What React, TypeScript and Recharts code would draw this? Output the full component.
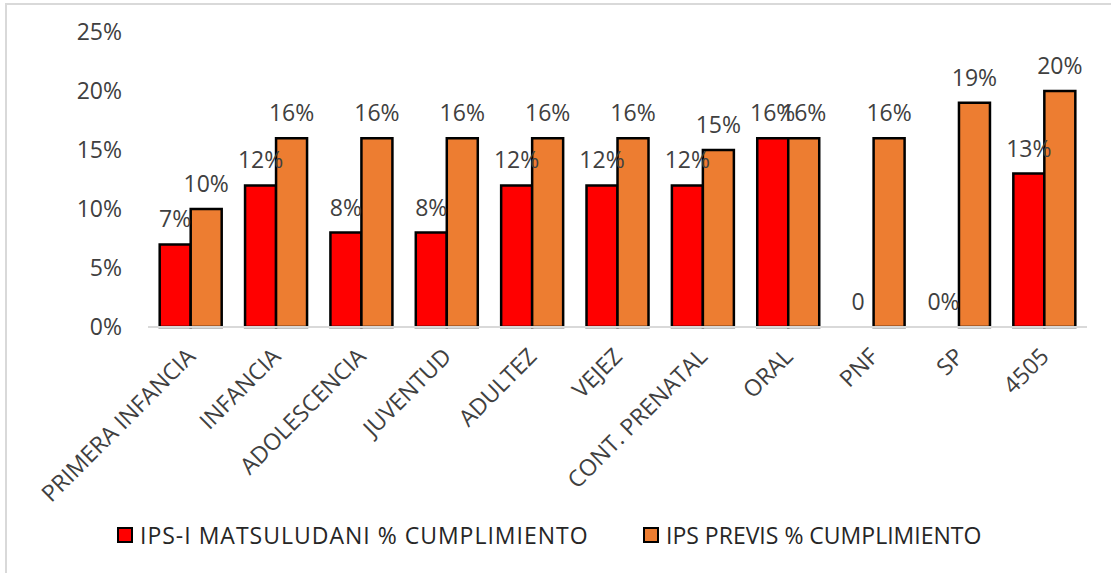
import React from 'react';
import { ComposedChart, Bar, Line, XAxis, YAxis, Legend, LabelList } from 'recharts';

const categories = ['PRIMERA INFANCIA', 'INFANCIA', 'ADOLESCENCIA', 'JUVENTUD', 'ADULTEZ', 'VEJEZ', 'CONT. PRENATAL', 'ORAL', 'PNF', 'SP', '4505'];
const matsuludani = [7, 12, 8, 8, 12, 12, 12, 16, 0, 0, 13];
const matsuludaniLabels = ['7%', '12%', '8%', '8%', '12%', '12%', '12%', '16%', '0', '0%', '13%'];
const previs = [10, 16, 16, 16, 16, 16, 15, 16, 16, 19, 20];
const previsLabels = ['10%', '16%', '16%', '16%', '16%', '16%', '15%', '16%', '16%', '19%', '20%'];
const yTicks = [0, 5, 10, 15, 20, 25];
const seriesNames = ['IPS-I MATSULUDANI % CUMPLIMIENTO', 'IPS PREVIS % CUMPLIMIENTO'];
const seriesColors = ['#FF0000', '#ED7D31'];

const data = categories.map((c, i) => ({
  name: c,
  a: matsuludani[i],
  aLabel: matsuludaniLabels[i],
  b: previs[i],
  bLabel: previsLabels[i],
}));

const FONT = '"Open Sans", sans-serif';
const TEXT = '#404040';
const FS = 23;

// chart geometry
const W = 1111;
const H = 573;
const MARGIN = { top: 32, right: 24, left: 88, bottom: 96 };
const Y_AXIS_W = 60;
const CAT_GAP = 0.137;
const plotW = W - MARGIN.left - MARGIN.right - Y_AXIS_W;
const bandW = plotW / categories.length;
const barW = (bandW * (1 - 2 * CAT_GAP)) / 2;

const XTick = (props: any) => {
  const { x, y, payload } = props;
  return (
    <g transform={`translate(${x + 6},${y + 31})`}>
      <text x={0} y={0} textAnchor="end" transform="rotate(-45)" fontFamily={FONT} fontSize={FS} fill={TEXT}>
        {payload.value}
      </text>
    </g>
  );
};

const legendLefts = [117, 643];
const legendSpacing = [1, 0];

const LegendContent = () => (
  <div style={{ position: 'relative', height: 30, fontFamily: FONT, fontSize: FS, color: '#262626' }}>
    {seriesNames.map((n, i) => (
      <div
        key={n}
        style={{ position: 'absolute', left: legendLefts[i], top: 0, display: 'flex', alignItems: 'center', whiteSpace: 'nowrap' }}
      >
        <span
          style={{
            display: 'inline-block',
            width: 16,
            height: 16,
            background: seriesColors[i],
            border: '2.5px solid #000',
            boxSizing: 'border-box',
            marginRight: 7,
          }}
        />
        <span style={{ letterSpacing: legendSpacing[i] }}>{n}</span>
      </div>
    ))}
  </div>
);

export default function App() {
  return (
    <div style={{ position: 'absolute', left: 0, top: 0, width: W, height: H, background: '#fff', overflow: 'hidden' }}>
      <div
        style={{
          position: 'absolute',
          left: 5,
          top: 3,
          width: 1200,
          height: 700,
          border: '2px solid #d9d9d9',
          boxSizing: 'border-box',
        }}
      />
      <div style={{ position: 'absolute', left: 0, top: 0 }}>
        <ComposedChart width={W} height={H} data={data} margin={MARGIN} barCategoryGap={`${CAT_GAP * 100}%`} barGap={0}>
          <XAxis
            dataKey="name"
            interval={0}
            height={150}
            axisLine={{ stroke: '#d9d9d9', strokeWidth: 2 }}
            tickLine={false}
            tickSize={0}
            tickMargin={0}
            tick={<XTick />}
          />
          <YAxis
            width={Y_AXIS_W}
            domain={[0, 25]}
            ticks={yTicks}
            axisLine={false}
            tickLine={false}
            tickSize={0}
            tickMargin={26}
            tickFormatter={(v: number) => `${v}%`}
            tick={{ fontFamily: FONT, fontSize: FS, fill: TEXT }}
          />
          <Legend
            layout="horizontal"
            verticalAlign="middle"
            align="center"
            content={<LegendContent />}
            wrapperStyle={{ left: 0, top: 519, width: W }}
          />
          <Bar dataKey="a" name={seriesNames[0]} fill={seriesColors[0]} stroke="#000" strokeWidth={2.5} isAnimationActive={false} />
          <Bar dataKey="b" name={seriesNames[1]} fill={seriesColors[1]} stroke="#000" strokeWidth={2.5} isAnimationActive={false}>
            <LabelList dataKey="bLabel" position="top" offset={17} fontFamily={FONT} fontSize={FS} fill={TEXT} />
          </Bar>
          {/* carrier for the red series' data labels (bars of value 0 still need their label) */}
          <Line
            dataKey="a"
            stroke="none"
            dot={false}
            activeDot={false}
            legendType="none"
            isAnimationActive={false}
          >
            <LabelList dataKey="aLabel" position="top" offset={17} dx={-barW / 2} fontFamily={FONT} fontSize={FS} fill={TEXT} />
          </Line>
        </ComposedChart>
      </div>
    </div>
  );
}
